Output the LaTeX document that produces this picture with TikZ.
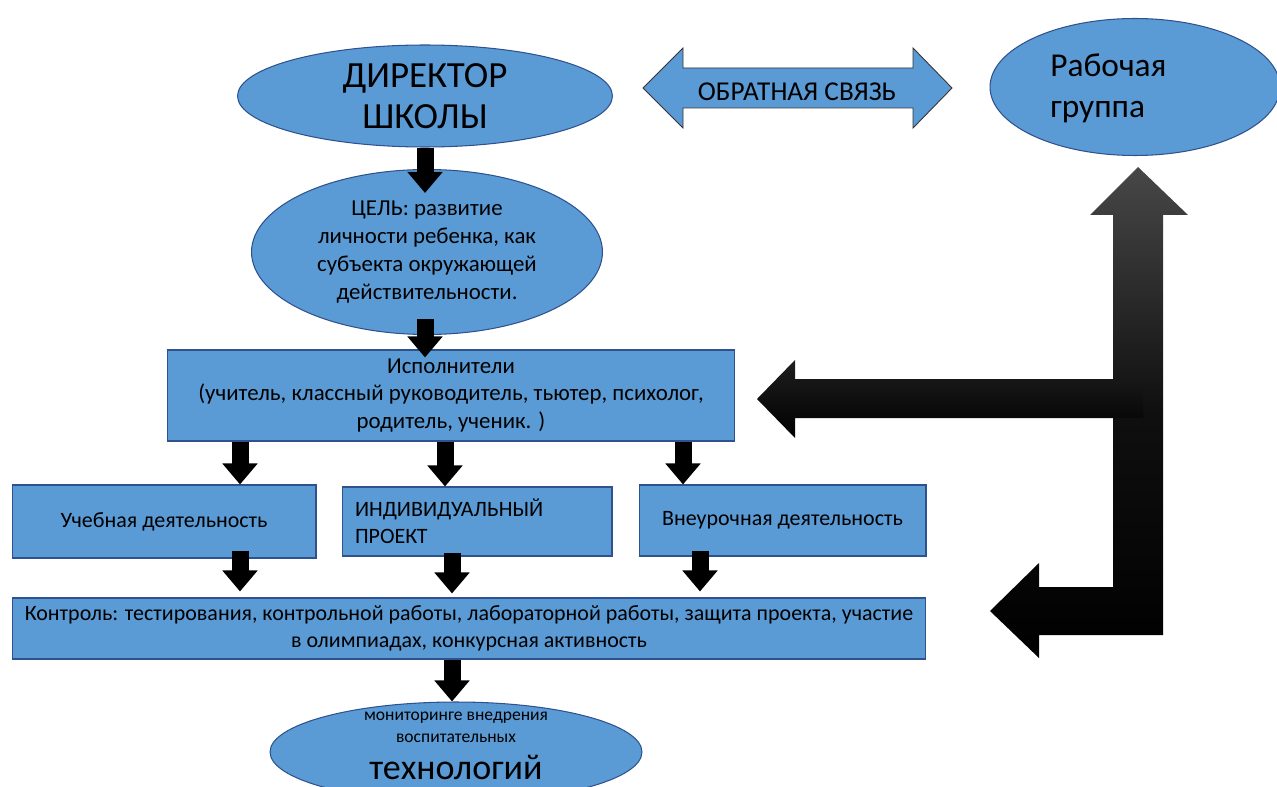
\documentclass[tikz,border=0pt]{standalone}
\usepackage{fontspec}
\setmainfont{Carlito}
\usetikzlibrary{shapes.geometric,arrows.meta}
\definecolor{officeblue}{HTML}{5B9BD5}
\definecolor{officeline}{HTML}{2F528F}

\begin{document}
\begin{tikzpicture}[x=0.02cm, y=-0.02cm,
	oval/.style={ellipse, draw=officeline, fill=officeblue, line width=0.6pt, inner sep=0pt},
	panel/.style={rectangle, draw=officeline, fill=officeblue, line width=0.6pt, inner sep=0pt,
		font=\fontsize{12.5}{15.6}\selectfont},
	txt/.style={inner sep=0pt},
	blk/.style={line width=0.34cm, -{Triangle[width=0.68cm, length=0.42cm]}}]
\clip (0,0) rectangle (1277,787);

% top row
\node[oval, minimum width=7.5cm, minimum height=2.04cm, align=center,
	font=\fontsize{21}{23}\selectfont] (dir) at (425,96) {ДИРЕКТОР\\ШКОЛЫ};
\filldraw[fill=officeblue, draw=black!80, line width=0.5pt] (643,88) -- (683,48) -- (683,68)
	-- (913,68) -- (913,48) -- (952,88) -- (913,128) -- (913,108) -- (683,108) -- (683,128) -- cycle;
\node[txt, font=\fontsize{15.5}{18}\selectfont] (fb) at (797,92) {ОБРАТНАЯ СВЯЗЬ};
\node[oval, minimum width=5.8cm, minimum height=2.74cm] (grp) at (1135,87) {};
\node[txt, anchor=west, align=left, font=\fontsize{19}{23.5}\selectfont] (grptxt) at (1050,88) {Рабочая\\группа};

% goal
\node[oval, minimum width=7.02cm, minimum height=3.3cm, align=center,
	font=\fontsize{13}{16}\selectfont] (goal) at (427,252)
	{ЦЕЛЬ: развитие\\личности ребенка, как\\субъекта окружающей\\действительности.};

% executors and activities
\node[panel, minimum width=11.36cm, minimum height=1.82cm, align=center,
	font=\fontsize{13}{15.6}\selectfont] (exec) at (451,395.5)
	{Исполнители\\(учитель, классный руководитель, тьютер, психолог,\\родитель, ученик. )};
\node[panel, minimum width=6.08cm, minimum height=1.46cm] (study) at (164,521.5) {Учебная деятельность};
\node[panel, minimum width=5.4cm, minimum height=1.38cm, text width=4.88cm, align=left]
	(proj) at (477,521.5) {ИНДИВИДУАЛЬНЫЙ\\ПРОЕКТ};
\node[panel, minimum width=5.74cm, minimum height=1.42cm] (extra) at (782.5,520.5) {Внеурочная деятельность};
\node[panel, minimum width=18.28cm, minimum height=1.22cm, align=center] (ctrl) at (469,628.5)
	{Контроль: тестирования, контрольной работы, лабораторной работы, защита проекта, участие\\в олимпиадах, конкурсная активность};

% result
\node[oval, minimum width=7.44cm, minimum height=2.0cm] (mon) at (456,752) {};
\node[txt, anchor=base, font=\fontsize{10}{12}\selectfont] (mon1) at (456,720) {мониторинге внедрения};
\node[txt, anchor=base, font=\fontsize{10}{12}\selectfont] (mon2) at (456,742) {воспитательных};
\node[txt, anchor=base, font=\fontsize{20.5}{24}\selectfont] (mon3) at (456,779) {технологий};

% down arrows
\coordinate (c1) at (240,0);
\coordinate (c2) at (445,0);
\coordinate (c3) at (683,0);
\coordinate (c4) at (452,0);
\coordinate (c5) at (700,0);
\draw[blk] (dir.south) -- ([yshift=-0.48cm]goal.north -| dir.south);
\draw[blk] ([yshift=0.32cm]goal.south -| dir.south) -- ([yshift=-0.16cm]exec.north -| dir.south);
\draw[blk] (exec.south -| c1) -- (study.north -| c1);
\draw[blk] (exec.south -| c2) -- (proj.north -| c2);
\draw[blk] (exec.south -| c3) -- (extra.north -| c3);
\draw[blk] ([yshift=0.16cm]study.south -| c1) -- ([yshift=0.12cm]ctrl.north -| c1);
\draw[blk] ([yshift=0.08cm]proj.south -| c4) -- ([yshift=0.08cm]ctrl.north -| c4);
\draw[blk] ([yshift=0.12cm]extra.south -| c5) -- ([yshift=0.12cm]ctrl.north -| c5);
\draw[blk] (ctrl.south -| c4) -- (mon.north -| c4);

% feedback arrow on the right
\shade[top color=black!72, bottom color=black, middle color=black!94]
	(1138,167) -- (1188,215) -- (1163,215) -- (1163,635) -- (1039,635) -- (1039,658) -- (990,611)
	-- (1039,563) -- (1039,587) -- (1113,587) -- (1113,215) -- (1090,215) -- cycle;
\shade[top color=black!88, bottom color=black]
	(1143,379) -- (795,379) -- (795,360) -- (757,399) -- (795,438) -- (795,418) -- (1143,418) -- cycle;
\end{tikzpicture}
\end{document}
